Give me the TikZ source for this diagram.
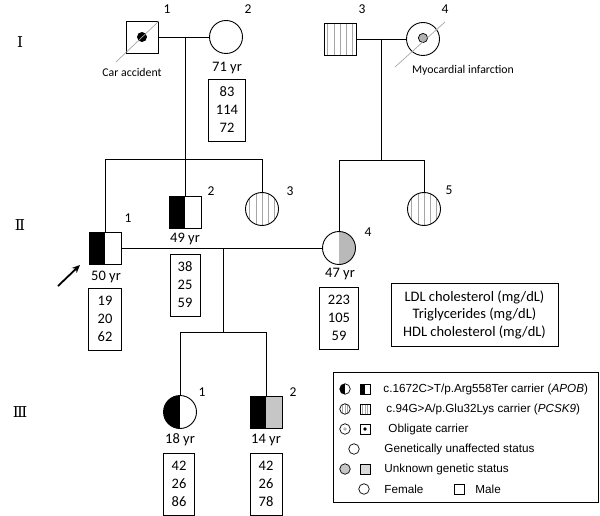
\documentclass[tikz,border=0pt]{standalone}
\usepackage{fontspec}
\setmainfont{Carlito}
\newfontfamily\legfont{Liberation Sans}
\newfontfamily\romfont{DejaVu Serif}
\usetikzlibrary{arrows.meta}
\begin{document}
\begin{tikzpicture}[x=1pt,y=-1pt,line width=0.9pt,
  male/.style={draw, rectangle, minimum size=32pt, inner sep=0pt},
  female/.style={draw, circle, minimum size=33pt, inner sep=0pt},
  halfblack/.style={path picture={\fill[black] (path picture bounding box.south west) rectangle (path picture bounding box.north);}},
  rightgray/.style={path picture={\fill[gray!55] (path picture bounding box.south east) rectangle (path picture bounding box.north);}},
  blackgray/.style={path picture={\fill[black] (path picture bounding box.south west) rectangle (path picture bounding box.north);
     \fill[gray!45] (path picture bounding box.south east) rectangle (path picture bounding box.north);}},
  stripes/.style={path picture={\foreach \k in {-2,...,2} \draw[gray!70,line width=0.5pt] ([xshift=\k*6.2pt]path picture bounding box.north) -- ([xshift=\k*6.2pt]path picture bounding box.south);}},
  sstripes/.style={path picture={\foreach \k in {-1,0,1} \draw[gray!70,line width=0.6pt] ([xshift=\k*2.7pt]path picture bounding box.north) -- ([xshift=\k*2.7pt]path picture bounding box.south);}},
  dead/.style={draw=gray!70, line width=0.7pt},
  lbl/.style={font=\fontsize{13.5}{16}\selectfont, inner sep=0pt},
  age/.style={font=\fontsize{14.5}{17}\selectfont, inner sep=0pt},
  note/.style={font=\fontsize{11.8}{14}\selectfont, inner sep=0pt},
  valbox/.style={draw, line width=0.8pt, align=center, inner sep=2pt, minimum height=62pt, font=\fontsize{14.5}{18}\selectfont},
  gen/.style={font=\romfont\fontsize{15}{17}\selectfont, inner sep=0pt},
  lc/.style={draw, circle, minimum size=10.5pt, inner sep=0pt, line width=0.7pt},
  ls/.style={draw, rectangle, minimum size=10pt, inner sep=0pt, line width=0.7pt},
  legtxt/.style={anchor=west, inner sep=0pt, font=\legfont\fontsize{11.7}{14}\selectfont}
]
\useasboundingbox (0,0) rectangle (600,516);

% generation labels
\node[gen] (gI) at (20,42) {I};
\node[gen] (gII) at (20,225) {Ⅱ};
\node[gen] (gIII) at (20,412) {Ⅲ};

% generation I
\node[male] (I1) at (142,37) {};
\fill[black] (I1.center) circle (5pt);
\node[female] (I2) at (226,37) {};
\node[male, stripes] (I3) at (340,39) {};
\node[female] (I4) at (423,39) {};
\filldraw[fill=gray!60, draw=black, line width=0.7pt] ([yshift=1pt]I4.center) circle (4.6pt);
\coordinate (d1a) at (116,62);
\coordinate (d1b) at (159,21);
\draw[dead] (d1a) -- (d1b);
\coordinate (d4a) at (395,67);
\coordinate (d4b) at (445,22);
\draw[dead] (d4a) -- (d4b);

\node[lbl] (nI1) at (167,9) {1};
\node[lbl] (nI2) at (248,9) {2};
\node[lbl] (nI3) at (362,9) {3};
\node[lbl] (nI4) at (445,9) {4};
\node[note] (caracc) at (132,72) {Car accident};
\node[note] (myo) at (463,70) {Myocardial infarction};
\node[age] (aI2) at (227,68) {71 yr};
\node[valbox, minimum width=37pt] (vI2) at (227,110) {83\\114\\72};

% generation II
\node[male, halfblack] (II1) at (105,248) {};
\node[male, halfblack] (II2) at (185,212) {};
\node[female, stripes] (II3) at (262,209) {};
\node[female, rightgray] (II4) at (339,248) {};
\node[female, stripes] (II5) at (424,209) {};

\node[lbl] (nII1) at (128,218) {1};
\node[lbl] (nII2) at (211,191) {2};
\node[lbl] (nII3) at (290,191) {3};
\node[lbl] (nII4) at (368,232) {4};
\node[lbl] (nII5) at (449,190) {5};

\node[age] (aII1) at (106,277) {50 yr};
\node[age] (aII2) at (185,239) {49 yr};
\node[age] (aII4) at (340,274) {47 yr};
\node[valbox, minimum width=33pt] (vII1) at (105,319) {19\\20\\62};
\node[valbox, minimum width=30pt] (vII2) at (185,285) {38\\25\\59};
\node[valbox, minimum width=39pt] (vII4) at (339,318) {223\\105\\59};
\node[draw, line width=0.8pt, align=center, minimum width=167pt, minimum height=63pt, inner sep=2pt,
      font=\fontsize{14.5}{17.5}\selectfont] (key) at (474.5,314.5)
      {LDL cholesterol (mg/dL)\\Triglycerides (mg/dL)\\HDL cholesterol (mg/dL)};

% proband arrow
\coordinate (prA) at (58,286);
\coordinate (prB) at (80,265);
\draw[line width=1.8pt, -{Stealth[length=8pt,width=7pt]}] (prA) -- (prB);

% generation III
\node[female, halfblack] (III1) at (180,412) {};
\node[male, blackgray] (III2) at (266,412) {};
\node[lbl] (nIII1) at (202,392) {1};
\node[lbl] (nIII2) at (293,392) {2};
\node[age] (aIII1) at (180,440) {18 yr};
\node[age] (aIII2) at (266,440) {14 yr};
\node[valbox, minimum width=31pt] (vIII1) at (179,484) {42\\26\\86};
\node[valbox, minimum width=32pt] (vIII2) at (266,484) {42\\26\\78};

% connections
\coordinate (m1) at (185,37);
\coordinate (s1) at (185,159);
\draw (I1.east) -- (I2.west);
\draw (m1) -- (s1);
\draw (II1.north) -- (II1.north |- s1) -- (II3.north |- s1) -- (II3.north);
\draw (II2.north) -- (II2.north |- s1);

\coordinate (m2) at (381,39);
\coordinate (s2) at (381,160);
\draw (I3.east) -- (I4.west);
\draw (m2) -- (s2);
\draw (II4.north) -- (II4.north |- s2) -- (II5.north |- s2) -- (II5.north);

\coordinate (m3) at (223,248);
\coordinate (s3) at (223,332);
\draw (II1.east) -- (II4.west);
\draw (m3) -- (s3);
\draw (III1.north) -- (III1.north |- s3) -- (III2.north |- s3) -- (III2.north);

% legend
\node[draw, line width=0.8pt, minimum width=265pt, minimum height=130pt, inner sep=0pt] (legend) at (465.5,437) {};
\node[lc, halfblack] (l1c) at (345,389) {};
\node[ls, halfblack] (l1s) at (365,389) {};
\node[lc, sstripes] (l2c) at (345,409) {};
\node[ls, sstripes] (l2s) at (365,409) {};
\node[lc] (l3c) at (345,429) {};
\fill[gray!60] (l3c.center) circle (1.9pt);
\node[ls] (l3s) at (365,429) {};
\fill[black] (l3s.center) circle (1.9pt);
\node[lc] (l4c) at (354,449) {};
\node[lc, fill=gray!45] (l5c) at (345,469) {};
\node[ls, fill=gray!30] (l5s) at (365,469) {};
\node[lc] (l6c) at (364,489) {};
\node[ls] (l6s) at (459,489) {};
\node[legtxt] (t1) at (383,389) {c.1672C>T/p.Arg558Ter carrier (\textit{APOB})};
\node[legtxt] (t2) at (386,409) {c.94G>A/p.Glu32Lys carrier (\textit{PCSK9})};
\node[legtxt] (t3) at (388,429) {Obligate carrier};
\node[legtxt] (t4) at (384,449) {Genetically unaffected status};
\node[legtxt] (t5) at (384,469) {Unknown genetic status};
\node[legtxt] (t6) at (384,489) {Female};
\node[legtxt] (t7) at (475,489) {Male};
\end{tikzpicture}
\end{document}
